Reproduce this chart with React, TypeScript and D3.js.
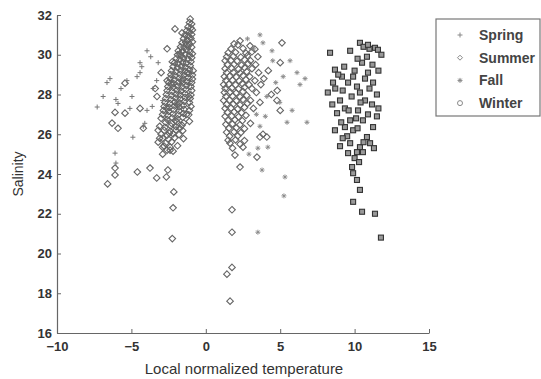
import React, { useEffect, useRef } from 'react';
import * as d3 from 'd3';

// axis ticks
const xTicks = [-10, -5, 0, 5, 10, 15];
const yTicks = [16, 18, 20, 22, 24, 26, 28, 30, 32];
const seasons = ['Spring', 'Summer', 'Fall', 'Winter'];

// [temperature, salinity]
const spring: [number, number][] = [
  [-7.3, 27.37], [-6.64, 28.6], [-6.44, 28.8], [-6.04, 27.75], [-5.9, 27.55], [-5.3, 28.7],
  [-4.96, 27.9], [-4.62, 28.9], [-4.42, 29.1], [-4.3, 29.4], [-4.42, 29.6], [-3.95, 30.2],
  [-3.2, 29.6], [-3.95, 27.2], [-3.6, 27.4], [-4.1, 26.55], [-4.2, 26.4], [-4.9, 25.85],
  [-6.1, 25.05], [-6.04, 24.55], [-3.3, 28.7], [-3.54, 28.3], [-2.9, 27.7], [-2.6, 26.7],
  [-5.7, 28.3], [-6.9, 27.9], [-5.1, 27.3], [-3.7, 29.9], [-2.2, 29.0], [-1.6, 30.4],
];
const fall: [number, number][] = [
  [3.64, 31.0], [3.84, 30.6], [4.45, 30.2], [5.66, 29.7], [6.13, 29.1], [6.67, 28.8],
  [6.33, 28.5], [6.8, 26.6], [5.46, 26.6], [5.8, 27.2], [4.5, 29.7], [4.1, 27.9],
  [4.97, 27.6], [3.64, 26.4], [3.78, 24.2], [5.32, 23.85], [5.25, 22.9], [3.5, 21.07],
  [4.17, 25.35], [3.5, 25.3], [3.2, 30.3], [2.8, 30.8], [4.7, 28.6], [3.4, 27.0],
  [2.9, 25.0], [4.0, 26.9], [5.2, 28.9],
];
const summer: [number, number][] = [
  // dense column left of zero
  [-1.05, 31.8], [-1.1, 31.62], [-0.95, 31.55], [-1.2, 31.4], [-1.0, 31.35], [-1.3, 31.2],
  [-1.1, 31.15], [-0.9, 31.25], [-1.4, 31.0], [-1.15, 30.95], [-0.95, 31.02], [-1.5, 30.8],
  [-1.25, 30.75], [-1.0, 30.82], [-1.6, 30.6], [-1.35, 30.62], [-1.1, 30.55], [-0.9, 30.65],
  [-1.7, 30.4], [-1.45, 30.35], [-1.2, 30.42], [-0.95, 30.38], [-1.85, 30.2], [-1.55, 30.18],
  [-1.3, 30.25], [-1.05, 30.15], [-1.9, 30.0], [-1.65, 29.95], [-1.4, 30.02], [-1.1, 29.98],
  [-0.9, 30.05], [-2.0, 29.8], [-1.75, 29.75], [-1.5, 29.82], [-1.2, 29.78], [-0.95, 29.85],
  [-2.1, 29.6], [-1.85, 29.55], [-1.55, 29.62], [-1.3, 29.58], [-1.0, 29.65], [-2.2, 29.4],
  [-1.9, 29.35], [-1.65, 29.42], [-1.35, 29.38], [-1.05, 29.45], [-2.3, 29.2], [-2.0, 29.15],
  [-1.7, 29.22], [-1.4, 29.18], [-1.1, 29.25], [-0.85, 29.2], [-2.35, 29.0], [-2.05, 28.95],
  [-1.75, 29.02], [-1.45, 28.98], [-1.15, 29.05], [-0.9, 28.98], [-2.4, 28.8], [-2.1, 28.75],
  [-1.8, 28.82], [-1.5, 28.78], [-1.2, 28.85], [-0.9, 28.78], [-2.5, 28.6], [-2.15, 28.55],
  [-1.85, 28.62], [-1.55, 28.58], [-1.25, 28.65], [-0.95, 28.6], [-2.55, 28.4], [-2.2, 28.35],
  [-1.9, 28.42], [-1.6, 28.38], [-1.3, 28.45], [-1.0, 28.4], [-2.6, 28.2], [-2.25, 28.15],
  [-1.95, 28.22], [-1.65, 28.18], [-1.35, 28.25], [-0.95, 28.2], [-2.65, 28.0], [-2.3, 27.95],
  [-2.0, 28.02], [-1.7, 27.98], [-1.4, 28.05], [-1.0, 27.98], [-2.7, 27.8], [-2.35, 27.75],
  [-2.05, 27.82], [-1.7, 27.78], [-1.4, 27.85], [-1.05, 27.8], [-2.75, 27.6], [-2.4, 27.55],
  [-2.1, 27.62], [-1.75, 27.58], [-1.45, 27.65], [-1.1, 27.6], [-2.8, 27.4], [-2.45, 27.35],
  [-2.1, 27.42], [-1.8, 27.38], [-1.5, 27.45], [-1.0, 27.4], [-2.85, 27.2], [-2.5, 27.15],
  [-2.15, 27.22], [-1.8, 27.18], [-1.45, 27.25], [-1.1, 27.2], [-2.9, 27.0], [-2.55, 26.95],
  [-2.2, 27.02], [-1.85, 26.98], [-1.5, 27.05], [-1.15, 26.98], [-3.0, 26.8], [-2.6, 26.75],
  [-2.25, 26.82], [-1.9, 26.78], [-1.55, 26.85], [-2.7, 26.6], [-2.3, 26.55], [-1.95, 26.62],
  [-1.5, 26.58], [-1.1, 26.65], [-3.1, 26.4], [-2.75, 26.35], [-2.35, 26.42], [-2.0, 26.38],
  [-1.6, 26.45], [-2.8, 26.2], [-2.4, 26.15], [-2.0, 26.22], [-1.55, 26.18], [-3.0, 26.0],
  [-2.6, 25.95], [-2.2, 26.02], [-1.8, 25.98], [-2.9, 25.8], [-2.5, 25.75], [-2.1, 25.82],
  [-1.5, 25.78], [-3.2, 25.6], [-2.7, 25.55], [-2.3, 25.62], [-2.8, 25.4], [-2.4, 25.35],
  [-1.9, 25.42], [-2.6, 25.2], [-2.2, 25.15], [-2.9, 25.0],
  [-1.6, 31.1], [-1.3, 30.5], [-1.75, 30.05], [-2.25, 29.65], [-1.25, 29.1], [-1.6, 28.7],
  [-2.3, 28.5], [-1.15, 27.9], [-1.9, 27.5], [-2.6, 27.3], [-1.3, 27.0], [-2.05, 26.7],
  [-1.75, 26.3], [-2.45, 26.05],
  // scattered, left
  [-6.6, 23.5], [-6.1, 24.3], [-6.1, 23.95], [-4.6, 24.1], [-3.75, 24.3], [-3.3, 23.8],
  [-2.55, 24.2], [-2.65, 23.85], [-2.15, 23.1], [-2.2, 22.3], [-2.25, 20.75], [-5.43, 28.57],
  [-6.1, 27.1], [-6.3, 26.56], [-5.43, 27.06], [-4.42, 27.3], [-4.2, 26.3], [-3.28, 27.9],
  [-3.2, 26.2], [-3.1, 25.8], [-2.9, 25.35], [-2.4, 25.2], [-2.6, 28.7], [-2.07, 31.3],
  [-3.4, 28.3], [-3.0, 29.1], [-2.6, 30.3], [-5.9, 26.3],
  // middle cluster
  [2.3, 30.7], [2.16, 30.5], [2.97, 30.45], [1.9, 30.55], [1.7, 30.3], [2.5, 30.32],
  [3.3, 30.28], [1.5, 30.1], [2.0, 30.12], [2.7, 30.08], [3.1, 30.15], [1.4, 29.9],
  [1.85, 29.92], [2.35, 29.88], [2.8, 29.95], [3.5, 29.9], [1.3, 29.7], [1.7, 29.72],
  [2.1, 29.68], [2.6, 29.75], [3.0, 29.7], [1.45, 29.5], [1.9, 29.52], [2.4, 29.48],
  [2.85, 29.55], [3.35, 29.5], [1.3, 29.3], [1.75, 29.32], [2.2, 29.28], [2.6, 29.35],
  [3.1, 29.3], [1.4, 29.1], [1.85, 29.12], [2.3, 29.08], [2.75, 29.15], [3.55, 29.1],
  [1.25, 28.9], [1.6, 28.92], [2.05, 28.88], [2.5, 28.95], [2.95, 28.9], [1.35, 28.7],
  [1.8, 28.72], [2.25, 28.68], [2.7, 28.75], [3.3, 28.7], [1.2, 28.5], [1.55, 28.52],
  [2.0, 28.48], [2.45, 28.55], [2.9, 28.5], [3.7, 28.5], [1.3, 28.3], [1.75, 28.32],
  [2.2, 28.28], [2.6, 28.35], [3.1, 28.3], [1.25, 28.1], [1.65, 28.12], [2.05, 28.08],
  [2.5, 28.15], [3.4, 28.1], [1.35, 27.9], [1.8, 27.92], [2.3, 27.88], [2.75, 27.95],
  [1.2, 27.7], [1.6, 27.72], [2.05, 27.68], [2.5, 27.75], [3.0, 27.7], [1.4, 27.5],
  [1.85, 27.52], [2.3, 27.48], [2.8, 27.55], [1.3, 27.3], [1.7, 27.32], [2.15, 27.28],
  [2.6, 27.35], [3.2, 27.3], [1.45, 27.1], [1.9, 27.12], [2.4, 27.08], [1.3, 26.9],
  [1.75, 26.92], [2.2, 26.88], [2.7, 26.95], [1.5, 26.7], [1.95, 26.72], [2.45, 26.68],
  [1.35, 26.5], [1.8, 26.52], [2.3, 26.48], [3.0, 26.55], [1.55, 26.3], [2.05, 26.32],
  [2.6, 26.28], [1.4, 26.1], [1.9, 26.12], [2.35, 26.08], [1.6, 25.9], [2.15, 25.92],
  [3.64, 25.86], [4.1, 25.86], [1.5, 25.7], [2.0, 25.72], [2.6, 25.68], [1.63, 25.55],
  [2.3, 25.5], [2.5, 25.35], [1.8, 25.3], [1.96, 24.95], [3.44, 24.85], [2.3, 24.35],
  [5.12, 30.6], [5.0, 29.6], [4.78, 27.7], [5.0, 27.2], [4.8, 28.2], [3.64, 27.6],
  [3.84, 26.0], [4.2, 29.2], [3.9, 28.8], [4.4, 28.0], [1.76, 22.2], [1.76, 21.07],
  [1.76, 19.3], [1.42, 18.96], [1.63, 17.6],
];
const winter: [number, number][] = [
  [8.35, 30.1], [10.36, 30.6], [11.37, 30.35], [11.57, 30.25], [10.83, 29.9], [10.5, 29.6],
  [8.68, 29.25], [9.15, 28.9], [8.55, 28.6], [8.2, 28.1], [9.56, 28.6], [10.16, 28.4],
  [10.9, 29.1], [11.24, 28.6], [11.5, 28.0], [10.36, 28.1], [9.02, 27.7], [9.35, 27.3],
  [8.82, 27.06], [10.7, 27.7], [11.17, 27.5], [10.23, 27.2], [9.7, 26.7], [9.35, 26.36],
  [10.56, 26.7], [11.24, 26.36], [8.68, 26.2], [9.9, 26.2], [10.83, 25.86], [9.7, 25.55],
  [10.36, 25.35], [9.02, 25.4], [9.56, 25.05], [10.16, 25.1], [10.56, 25.1], [11.04, 25.55],
  [9.83, 24.35], [9.9, 24.04], [10.16, 23.7], [10.36, 23.2], [9.9, 22.6], [10.5, 22.1],
  [11.37, 22.0], [11.77, 20.8], [10.6, 30.4], [11.0, 30.3], [11.8, 30.0], [10.2, 29.8],
  [11.2, 29.5], [9.3, 29.4], [8.9, 29.0], [10.0, 29.2], [11.6, 29.2], [10.7, 28.8],
  [9.9, 28.9], [8.7, 28.3], [9.2, 28.2], [11.0, 28.3], [9.8, 27.9], [10.4, 27.6],
  [11.6, 27.3], [8.5, 27.5], [9.6, 27.2], [10.9, 27.0], [10.1, 26.8], [11.5, 26.9],
  [9.1, 26.6], [10.2, 26.3], [9.5, 25.9], [10.6, 25.6], [9.2, 25.8], [11.3, 25.3],
  [10.0, 24.8], [10.3, 24.6], [9.7, 30.2], [10.9, 30.5],
];

const W = 541;
const H = 379;
const m = { left: 57, right: 112, top: 15, bottom: 46 };
const axisColor = '#666';
const textColor = '#333';

export default function App() {
  const ref = useRef<SVGSVGElement>(null);

  useEffect(() => {
    const svg = d3.select(ref.current);
    svg.selectAll('*').remove();

    const x = d3.scaleLinear().domain([-10, 15]).range([m.left, W - m.right]);
    const y = d3.scaleLinear().domain([16, 32]).range([H - m.bottom, m.top]);

    const g = svg.append('g');

    const diamond = (s: number) => `M0,${-s} L${s},0 L0,${s} L${-s},0 Z`;
    const plus = (s: number) => `M${-s},0 H${s} M0,${-s} V${s}`;
    const star = (s: number) => `M${-s},0 H${s} M0,${-s} V${s} M${-s * 0.7},${-s * 0.7} L${s * 0.7},${s * 0.7} M${-s * 0.7},${s * 0.7} L${s * 0.7},${-s * 0.7}`;

    // summer diamonds
    g.append('g').selectAll('path').data(summer).enter().append('path')
      .attr('transform', d => `translate(${x(d[0])},${y(d[1])})`)
      .attr('d', diamond(3.3))
      .attr('fill', 'none')
      .attr('stroke', '#666')
      .attr('stroke-width', 1.1);

    // winter squares
    g.append('g').selectAll('rect').data(winter).enter().append('rect')
      .attr('x', d => x(d[0]) - 2.5)
      .attr('y', d => y(d[1]) - 2.5)
      .attr('width', 5)
      .attr('height', 5)
      .attr('fill', '#999')
      .attr('stroke', '#333')
      .attr('stroke-width', 1.1);

    // spring crosses
    g.append('g').selectAll('path').data(spring).enter().append('path')
      .attr('transform', d => `translate(${x(d[0])},${y(d[1])})`)
      .attr('d', plus(2.5))
      .attr('stroke', '#777')
      .attr('stroke-width', 1);

    // fall stars
    g.append('g').selectAll('path').data(fall).enter().append('path')
      .attr('transform', d => `translate(${x(d[0])},${y(d[1])})`)
      .attr('d', star(2.5))
      .attr('stroke', '#888')
      .attr('stroke-width', 0.9);

    // axes
    const xAxis = svg.append('g')
      .attr('transform', `translate(0,${H - m.bottom})`)
      .call(d3.axisBottom(x).tickValues(xTicks).tickSizeInner(-4).tickSizeOuter(0).tickPadding(6));
    const yAxis = svg.append('g')
      .attr('transform', `translate(${m.left},0)`)
      .call(d3.axisLeft(y).tickValues(yTicks).tickSizeInner(-4).tickSizeOuter(0).tickPadding(5));
    [xAxis, yAxis].forEach(a => {
      a.select('.domain').attr('stroke', axisColor).attr('stroke-width', 1.2);
      a.selectAll('.tick line').attr('stroke', axisColor);
      a.selectAll('text')
        .attr('fill', textColor)
        .attr('font-size', 13)
        .attr('font-weight', 'bold')
        .attr('font-family', 'Liberation Sans, Arial, sans-serif');
    });
    xAxis.selectAll('text').attr('dy', '0.9em');

    svg.append('text')
      .attr('x', (m.left + W - m.right) / 2 + 1)
      .attr('y', 374)
      .attr('text-anchor', 'middle')
      .attr('font-size', 15)
      .attr('font-family', 'Liberation Sans, Arial, sans-serif')
      .attr('fill', textColor)
      .text('Local normalized temperature');

    svg.append('text')
      .attr('transform', `translate(23,${(m.top + H - m.bottom) / 2}) rotate(-90)`)
      .attr('text-anchor', 'middle')
      .attr('font-size', 14)
      .attr('font-family', 'Liberation Sans, Arial, sans-serif')
      .attr('fill', textColor)
      .text('Salinity');

    // legend
    const lg = svg.append('g').attr('transform', 'translate(436,19)');
    lg.append('rect')
      .attr('width', 104)
      .attr('height', 97)
      .attr('fill', '#fff')
      .attr('stroke', '#777')
      .attr('stroke-width', 1.2);
    const item = lg.selectAll('g').data(seasons).enter().append('g')
      .attr('transform', (d, i) => `translate(0,${16 + i * 22.7})`);
    item.append('path')
      .attr('transform', 'translate(24,0)')
      .attr('d', (d, i) => i === 0 ? plus(2.5) : i === 1 ? diamond(2.5) : i === 2 ? star(2.5) : '')
      .attr('fill', 'none')
      .attr('stroke', '#888');
    item.filter((d, i) => i === 3).append('circle')
      .attr('cx', 24)
      .attr('r', 2.5)
      .attr('fill', 'none')
      .attr('stroke', '#888');
    item.append('text')
      .attr('x', 43)
      .attr('dy', '0.35em')
      .attr('font-size', 14)
      .attr('font-weight', 'bold')
      .attr('font-family', 'Liberation Sans, Arial, sans-serif')
      .attr('fill', '#444')
      .text(d => d);
  }, []);

  return (
    <svg ref={ref} width={W} height={H}
      style={{ position: 'absolute', left: 0, top: 0, background: '#fff' }} />
  );
}
